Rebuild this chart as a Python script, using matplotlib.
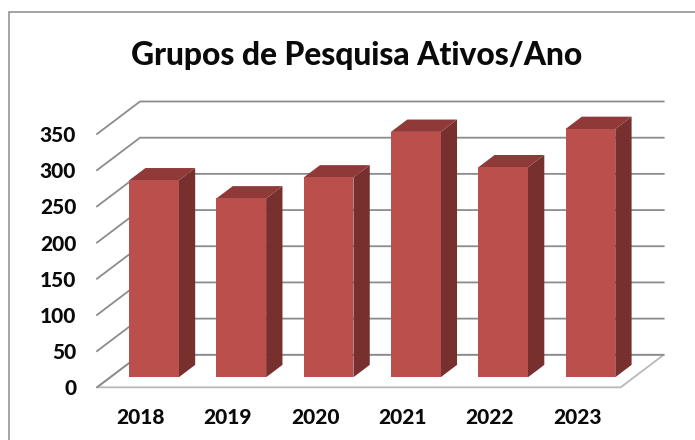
import matplotlib.pyplot as plt
from matplotlib.patches import Rectangle

years = ["2018", "2019", "2020", "2021", "2022", "2023"]
grupos = [272, 247, 276, 339, 290, 343]
ticks = [0, 50, 100, 150, 200, 250, 300, 350]

W, H = 695, 440
# depth of the fake 3d box, in data units
DX = 0.4926
DY = 44.9
BAR_W = 0.57
Z_FRONT = 0.31
Z_BACK = 0.69

plt.rcParams["font.family"] = ["Lato", "DejaVu Sans"]
plt.rcParams["font.weight"] = "black"


def proj(x, y, z):
    return x + z * DX, y + z * DY


def main():
    fig = plt.figure(figsize=(W / 100, H / 100), dpi=100)
    ax = fig.add_axes([97 / W, 1 - 387.3 / H, (620.7 - 97) / W, (387.3 - 134) / H])
    ax.set_xlim(0, len(years))
    ax.set_ylim(0, 350)
    ax.patch.set_alpha(0)
    for s in ax.spines.values():
        s.set_visible(False)

    # outer frame, runs off the right and bottom of the image
    fig.add_artist(Rectangle((9 / W, -0.1), 1.1, 1.1 - 12.5 / H, transform=fig.transFigure,
                             fill=False, edgecolor="#8a8a8a", linewidth=1.1))

    # floor
    n = len(years)
    floor = [proj(0, 0, 0), proj(n, 0, 0), proj(n, 0, 1), proj(0, 0, 1)]
    ax.fill([p[0] for p in floor], [p[1] for p in floor], facecolor="white",
            edgecolor="#b8b8b8", linewidth=1.3, clip_on=False, zorder=1)

    # grid lines, wall side and back
    for v in ticks:
        pts = [proj(0, v, 0), proj(0, v, 1), proj(n, v, 1)]
        ax.plot([p[0] for p in pts], [p[1] for p in pts], color="#8c8c8c", linewidth=1.3,
                clip_on=False, zorder=2, solid_joinstyle="miter")

    # bars
    for i, val in enumerate(grupos):
        x0 = i + 0.5 - BAR_W / 2
        x1 = i + 0.5 + BAR_W / 2
        front = [proj(x0, 0, Z_FRONT), proj(x1, 0, Z_FRONT), proj(x1, val, Z_FRONT), proj(x0, val, Z_FRONT)]
        side = [proj(x1, 0, Z_FRONT), proj(x1, 0, Z_BACK), proj(x1, val, Z_BACK), proj(x1, val, Z_FRONT)]
        top = [proj(x0, val, Z_FRONT), proj(x1, val, Z_FRONT), proj(x1, val, Z_BACK), proj(x0, val, Z_BACK)]
        ax.fill([p[0] for p in side], [p[1] for p in side], color="#78302e", lw=0, clip_on=False, zorder=3)
        ax.fill([p[0] for p in top], [p[1] for p in top], color="#8f3a38", lw=0, clip_on=False, zorder=3)
        ax.fill([p[0] for p in front], [p[1] for p in front], color="#ba4f4c", lw=0, clip_on=False, zorder=4)

    ax.set_xticks([i + 0.5 for i in range(n)])
    ax.set_xticklabels(years)
    ax.set_yticks(ticks)
    ax.tick_params(axis="both", length=0, labelsize=15, labelcolor="#0a0a0a")
    ax.tick_params(axis="x", pad=15)
    ax.tick_params(axis="y", pad=15)

    fig.text(357 / W, 1 - 55 / H, "Grupos de Pesquisa Ativos/Ano", ha="center", va="center",
             fontsize=22.9, fontweight="black", color="#0a0a0a")

    fig.savefig("out.png", dpi=100)


if __name__ == "__main__":
    main()
